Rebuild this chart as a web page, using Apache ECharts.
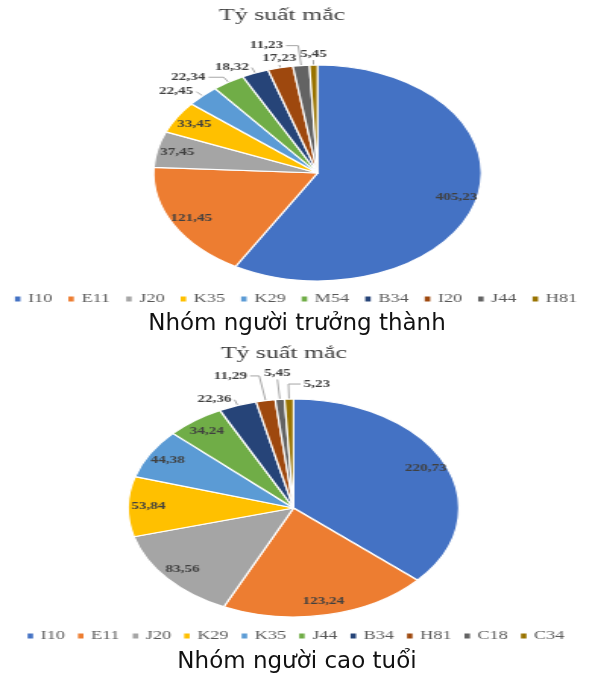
<!DOCTYPE html>
<html><head><meta charset="utf-8">
<script src="https://cdn.jsdelivr.net/npm/echarts@6/dist/echarts.min.js"></script>
<style>
html,body{margin:0;padding:0;background:#fff;width:592px;height:677px;overflow:hidden;}
.stretch{position:absolute;left:0;width:390px;transform-origin:0 0;transform:scaleX(1.5179);}
#top{top:0;height:340px;}
#bot{top:340px;height:337px;}
#cap{position:absolute;left:0;top:0;width:592px;height:677px;}
</style></head><body>
<div id="top" class="stretch"></div>
<div id="bot" class="stretch"></div>
<div id="cap"></div>
<script>
// ---- data ----
const adultCategories = ['I10','E11','J20','K35','K29','M54','B34','I20','J44','H81'];
const adultValues     = [405.23,121.45,37.45,33.45,22.45,22.34,18.32,17.23,11.23,5.45];
const elderCategories = ['I10','E11','J20','K29','K35','J44','B34','H81','C18','C34'];
const elderValues     = [220.73,123.24,83.56,53.84,44.38,34.24,22.36,11.29,5.45,5.23];
const chartTitle   = 'Tỷ suất mắc';
const adultCaption = 'Nhóm người trưởng thành';
const elderCaption = 'Nhóm người cao tuổi';

// ---- styles ----
const palette = ['#4472C4','#ED7D31','#A5A5A5','#FFC000','#5B9BD5','#70AD47','#264478','#9E480E','#636363','#997300'];
const adultLeader = { M54:{length2:10}, I20:{length:3, mode:'above'}, J44:{length:20,length2:8}, H81:{length:5, mode:'above'} };
const elderLeader = { H81:{length:25,length2:6}, C18:{length:20, mode:'above'}, C34:{length:15, mode:'right', tail:8} };
const SERIF = '"Liberation Serif","Times New Roman",serif';
const fmt = v => v.toFixed(2).replace('.', ',');

function buildOption(cats, vals, layout) {
  const total = vals.reduce((a,b)=>a+b,0);
  const inside = v => v/total > 0.045;
  const labelStyle = {fontFamily:SERIF, fontWeight:'bold', fontSize:10, color:'#404040',
                      formatter: p => fmt(p.value)};
  const mainData = cats.map((n,i)=>{
    const lp = layout.leader[n] || {};
    return {name:n, value:vals[i], itemStyle:{color:palette[i]},
      label:{show:!inside(vals[i])},
      labelLine:{show:!inside(vals[i]), length: lp.length ?? 6, length2: lp.length2 ?? 0}};
  });
  const labelData = cats.map((n,i)=>({name:n, value:vals[i], label:{show:inside(vals[i])}}));
  return {
    animation:false,
    graphic:[{type:'text', x:layout.titleX, y:layout.titleY,
      style:{text:chartTitle, textAlign:'center', textVerticalAlign:'top',
             font:'17px '+SERIF, fill:'#404040'}}],
    legend:{
      data: cats.map((n,i)=>({name:n, itemStyle:{color:palette[i], borderWidth:0}})),
      left:'center', top:layout.legendTop, icon:'rect', itemWidth:3.6, itemHeight:5,
      itemGap:layout.legendGap, selectedMode:false, padding:0, width:390,
      itemStyle:{borderWidth:0},
      textStyle:{fontFamily:SERIF, fontSize:12, color:'#595959'}
    },
    series:[
      {type:'pie', center:layout.center, radius:layout.r, startAngle:90, clockwise:true,
       avoidLabelOverlap:false, silent:true,
       itemStyle:{borderColor:'#fff', borderWidth:1.2},
       label:Object.assign({position:'outside', distanceToLabelLine:2}, labelStyle),
       labelLine:{lineStyle:{color:'#A6A6A6', width:1}},
       labelLayout:function(params){
         const lp = layout.leader[cats[params.dataIndex]] || {};
         const res = {hideOverlap:false};
         const pts = params.labelLinePoints;
         if (!pts) return res;
         if (lp.mode === 'above') {
           res.x = pts[1][0]; res.y = pts[1][1] - 1;
           res.align = 'center'; res.verticalAlign = 'bottom';
           res.labelLinePoints = [pts[0], pts[1], pts[1]];
         } else if (lp.mode === 'right') {
           const e = [pts[1][0] + lp.tail, pts[1][1]];
           res.x = e[0] + 2; res.y = e[1];
           res.align = 'left'; res.verticalAlign = 'middle';
           res.labelLinePoints = [pts[0], pts[1], e];
         }
         return res;
       },
       data:mainData},
      {type:'pie', center:layout.center, radius:layout.r*1.7, startAngle:90, clockwise:true,
       avoidLabelOverlap:false, silent:true, legendHoverLink:false, z:3,
       itemStyle:{color:'rgba(0,0,0,0)', borderWidth:0},
       label:Object.assign({position:'inside'}, labelStyle),
       labelLine:{show:false},
       data:labelData}
    ]
  };
}

const topChart = echarts.init(document.getElementById('top'));
topChart.setOption(buildOption(adultCategories, adultValues,
  {center:[209.2,173], r:108, titleX:185.8, titleY:7, legendTop:293, legendGap:10.6, leader:adultLeader}));

const botChart = echarts.init(document.getElementById('bot'));
botChart.setOption(buildOption(elderCategories, elderValues,
  {center:[193.4,168], r:109, titleX:187, titleY:5, legendTop:290, legendGap:8.6, leader:elderLeader}));

const capChart = echarts.init(document.getElementById('cap'));
capChart.setOption({
  animation:false,
  graphic:[
    {type:'text', x:297, y:324, silent:true,
     style:{text:adultCaption, textAlign:'center', textVerticalAlign:'middle',
            font:'23px "DejaVu Sans",Verdana,sans-serif', fill:'#111'}},
    {type:'text', x:297, y:662, silent:true,
     style:{text:elderCaption, textAlign:'center', textVerticalAlign:'middle',
            font:'23px "DejaVu Sans",Verdana,sans-serif', fill:'#111'}}
  ]
});
</script>
</body></html>
